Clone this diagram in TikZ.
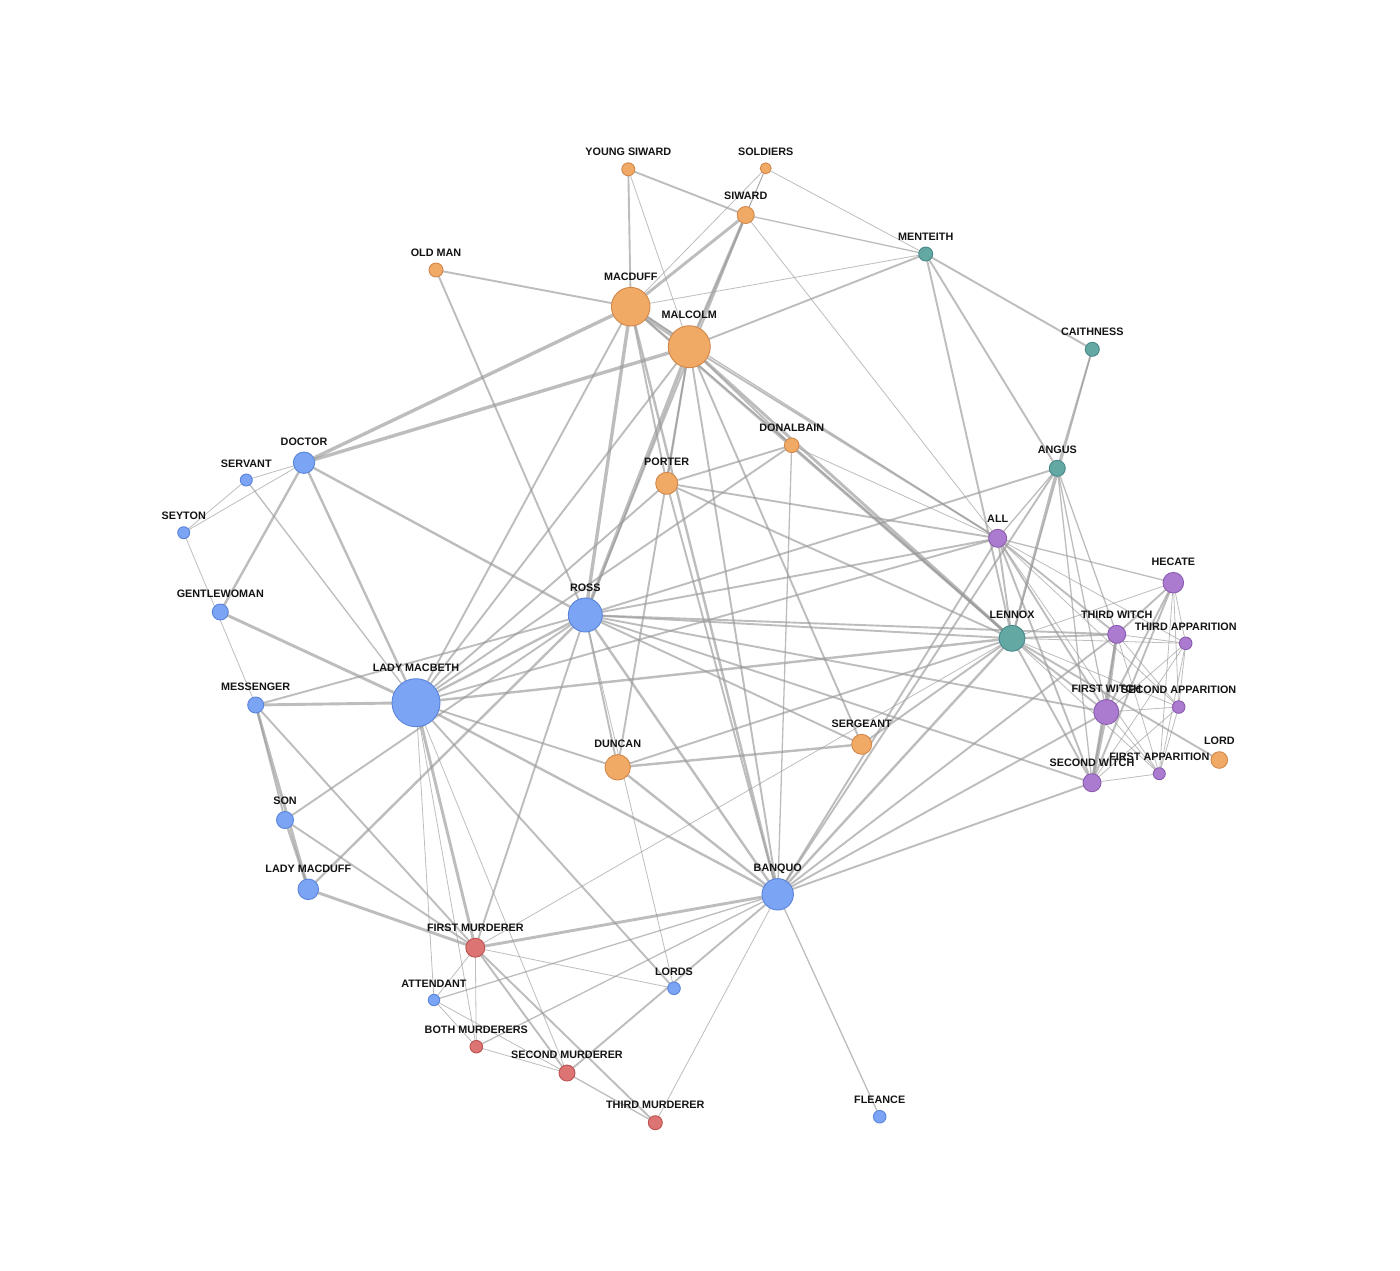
\documentclass[tikz,border=0pt]{standalone}
\usepackage{fontspec}
\setmainfont{Liberation Sans}
\usetikzlibrary{positioning}
\definecolor{orf}{HTML}{F0AA66}\definecolor{ord}{HTML}{D2874A}
\definecolor{blf}{HTML}{7BA4F4}\definecolor{bld}{HTML}{5A84DA}
\definecolor{tef}{HTML}{64A8A4}\definecolor{ted}{HTML}{47888A}
\definecolor{puf}{HTML}{AA7BCF}\definecolor{pud}{HTML}{8A5BB0}
\definecolor{rdf}{HTML}{DC7474}\definecolor{rdd}{HTML}{BC5252}
\definecolor{edgec}{HTML}{999999}
\pgfdeclarelayer{bg}
\pgfsetlayers{bg,main}
\tikzset{
  pnode/.style={circle, inner sep=0pt, outer sep=0pt, line width=0.9pt},
  orn/.style={pnode, fill=orf, draw=ord},
  bln/.style={pnode, fill=blf, draw=bld},
  ten/.style={pnode, fill=tef, draw=ted},
  pun/.style={pnode, fill=puf, draw=pud},
  rdn/.style={pnode, fill=rdf, draw=rdd},
  lab/.style={inner sep=0pt, text height=7.8pt, text depth=0pt, font=\bfseries\fontsize{10.8}{12}\selectfont, text=black!92},
  edge/.style={draw=edgec, opacity=0.64, line cap=butt}
}
\newcommand\pn[6]{%
  \node[#5, minimum size=#4*2pt] (#1) at (#2,#3) {};
  \node[lab, above=6.8pt of #1] (#1t) {#6};}
\begin{document}
\begin{tikzpicture}[x=1pt,y=-1pt]
\useasboundingbox (0,0) rectangle (1400,1270);
\pn{ys}{628.3}{169.3}{6.5}{orn}{YOUNG SIWARD}
\pn{so}{765.7}{168.3}{5.5}{orn}{SOLDIERS}
\pn{si}{745.7}{215}{8.5}{orn}{SIWARD}
\pn{om}{436}{270}{7}{orn}{OLD MAN}
\pn{md}{630.7}{306.7}{19.3}{orn}{MACDUFF}
\pn{ml}{689.3}{346.7}{21}{orn}{MALCOLM}
\pn{mn}{925.7}{254}{7}{ten}{MENTEITH}
\pn{ca}{1092.3}{349.3}{7}{ten}{CAITHNESS}
\pn{db}{791.7}{445.3}{7.3}{orn}{DONALBAIN}
\pn{po}{666.7}{483.3}{11}{orn}{PORTER}
\pn{an}{1057.3}{468.3}{8}{ten}{ANGUS}
\pn{al}{997.7}{538.3}{9}{pun}{ALL}
\pn{he}{1173.3}{582.7}{10.3}{pun}{HECATE}
\pn{dr}{304}{462.7}{10.7}{bln}{DOCTOR}
\pn{sv}{246.3}{480}{6}{bln}{SERVANT}
\pn{se}{183.7}{532.7}{6}{bln}{SEYTON}
\pn{gw}{220.3}{612}{8}{bln}{GENTLEWOMAN}
\pn{ro}{585.3}{615}{17}{bln}{ROSS}
\pn{le}{1012}{638.3}{13}{ten}{LENNOX}
\pn{tw}{1116.7}{634.3}{9}{pun}{THIRD WITCH}
\pn{ta}{1185.7}{643.3}{6.3}{pun}{THIRD APPARITION}
\pn{lm}{416}{702.7}{24}{bln}{LADY MACBETH}
\pn{me}{255.7}{705}{8}{bln}{MESSENGER}
\pn{fw}{1106.3}{712}{12.5}{pun}{FIRST WITCH}
\pn{sa}{1178.7}{707}{6.3}{pun}{SECOND APPARITION}
\pn{sg}{861.7}{744.3}{10}{orn}{SERGEANT}
\pn{du}{617.7}{767.3}{12.7}{orn}{DUNCAN}
\pn{lo}{1219.3}{760}{8.3}{orn}{LORD}
\pn{fa}{1159.3}{773.7}{6}{pun}{FIRST APPARITION}
\pn{sw}{1092}{782.7}{9}{pun}{SECOND WITCH}
\pn{sn}{285}{820}{8.5}{bln}{SON}
\pn{lf}{308.3}{889.3}{10.3}{bln}{LADY MACDUFF}
\pn{ba}{777.7}{894.3}{15.7}{bln}{BANQUO}
\pn{fm}{475.3}{947.7}{9.5}{rdn}{FIRST MURDERER}
\pn{ls}{674}{988.3}{6.3}{bln}{LORDS}
\pn{at}{434}{1000}{5.7}{bln}{ATTENDANT}
\pn{bm}{476.3}{1046.7}{6.3}{rdn}{BOTH MURDERERS}
\pn{sm}{567}{1073}{8}{rdn}{SECOND MURDERER}
\pn{tm}{655.3}{1122.7}{7}{rdn}{THIRD MURDERER}
\pn{fl}{879.7}{1116.7}{6.3}{bln}{FLEANCE}
\begin{pgfonlayer}{bg}
\fill[white] (0,0) rectangle (1400,1270);
\foreach \a/\b/\w in {
ys/si/1.9, ys/md/1.9, ys/ml/0.8,
so/si/0.8, so/md/0.8, so/mn/0.8, so/ml/0.8,
si/md/2.9, si/ml/2.9, si/mn/1.3, si/al/0.8, si/ro/1.9,
om/md/1.9, om/ro/1.9,
md/ml/4.4, md/mn/0.8, ml/mn/1.9,
md/dr/3.4, ml/dr/3.4, dr/ro/2.4,
mn/an/1.9, mn/ca/1.9, mn/le/1.9, ca/an/1.9, ca/le/1.3, an/le/2.4,
md/ro/3.4, ml/ro/3.4, md/al/1.3, ml/al/1.9, ro/al/1.9,
po/md/1.9, po/le/1.9, po/lm/1.9, po/ba/1.9, po/ml/1.9, po/db/1.9, po/al/1.9,
md/le/2.4, md/lm/1.9, md/ba/2.4, md/db/1.3,
le/lm/2.4, le/ba/2.4, le/ml/2.9, le/db/1.9, le/al/1.9,
lm/ba/2.4, lm/ml/1.9, lm/db/1.9, lm/al/1.9,
ba/ml/1.9, ba/db/1.3, ba/al/1.9, ml/db/1.9, db/al/0.8,
du/ml/1.9, du/sg/2.4, du/le/1.9, du/ro/1.9, ml/sg/1.9, sg/le/1.9, sg/ro/1.9, le/ro/1.9,
ba/fw/1.9, ba/sw/1.9, ba/tw/1.9, ba/ro/2.4, ba/an/1.9,
ro/fw/1.9, ro/sw/1.9, ro/tw/1.9, ro/an/1.9,
an/fw/1.3, an/sw/1.3, an/tw/1.3, an/al/1.3,
du/ba/2.4, du/lm/1.9, lm/me/2.9, ba/fl/1.3,
ba/fm/2.9, ba/sm/1.9, ba/bm/1.3, ba/at/1.3, lm/fm/2.9, lm/sm/0.8, lm/bm/0.8, lm/at/0.8,
fm/sm/1.9, fm/bm/0.8, fm/at/0.8, sm/bm/0.8, sm/at/0.8, bm/at/0.8,
lm/sv/1.3, fm/tm/1.9, sm/tm/1.3, ba/tm/0.8,
lm/ls/1.9, lm/ro/2.4, fm/ls/0.8, fm/ro/1.9, fm/le/0.8, ro/ls/0.8,
he/fw/1.9, le/lo/1.9,
fw/sw/3.4, fw/tw/2.9, sw/tw/2.4, al/fw/1.9, al/sw/1.9, al/tw/1.9, he/sw/1.9, he/tw/1.9, he/al/1.3,
le/fw/1.9, le/sw/1.9, le/tw/1.9, le/he/0.8,
fa/fw/0.8, fa/sw/0.8, fa/tw/0.8, fa/al/0.8, fa/he/0.8, fa/le/0.8,
sa/fw/0.8, sa/sw/0.8, sa/tw/0.8, sa/al/0.8, sa/he/0.8, sa/le/0.8,
ta/fw/0.8, ta/sw/0.8, ta/tw/0.8, ta/al/0.8, ta/he/0.8, ta/le/0.8,
fa/sa/0.8, fa/ta/0.8, sa/ta/0.8,
lf/ro/2.4, lf/sn/2.4, lf/me/2.9, lf/fm/2.9, ro/sn/1.9, ro/me/1.9, sn/me/1.9, sn/fm/1.9, me/fm/1.9,
dr/gw/2.4, dr/lm/2.4, gw/lm/2.9,
sv/se/0.8, sv/dr/0.8, se/dr/0.8, se/me/0.8}
  \draw[edge, line width=\w pt] (\a) -- (\b);
\end{pgfonlayer}
\end{tikzpicture}
\end{document}
